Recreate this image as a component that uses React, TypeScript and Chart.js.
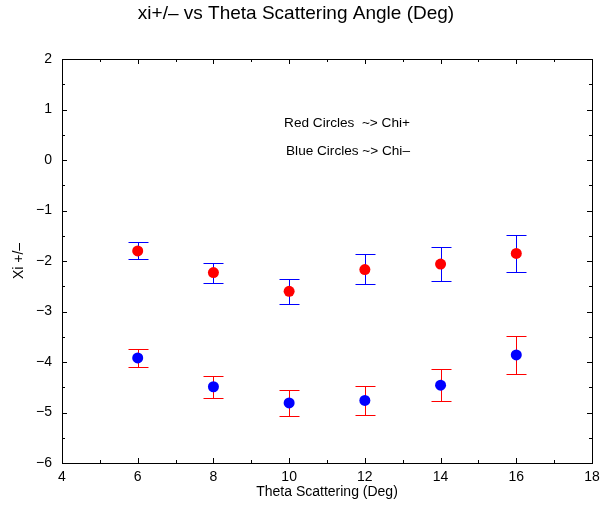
import React, { useEffect, useRef } from "react";
import { Chart, registerables } from "chart.js";

Chart.register(...registerables);

const theta = [6, 8, 10, 12, 14, 16];
const xiPlus = [-1.8, -2.23, -2.6, -2.17, -2.06, -1.85];
const xiPlusHigh = [-1.62, -2.03, -2.35, -1.87, -1.73, -1.48];
const xiPlusLow = [-1.97, -2.44, -2.86, -2.46, -2.39, -2.22];
const xiMinus = [-3.92, -4.49, -4.81, -4.76, -4.46, -3.86];
const xiMinusHigh = [-3.74, -4.28, -4.56, -4.48, -4.14, -3.49];
const xiMinusLow = [-4.1, -4.71, -5.06, -5.04, -4.78, -4.23];
const notes = ["Red Circles  ~> Chi+", "Blue Circles ~> Chi\u2013"];

const FONT = "'Liberation Sans', Arial, Helvetica, sans-serif";

const errorBarPlugin = {
  id: "errorBars",
  beforeDatasetsDraw(chart: any) {
    const ctx = chart.ctx;
    const xs = chart.scales.x;
    const ys = chart.scales.y;
    const groups = [
      { hi: xiPlusHigh, lo: xiPlusLow, color: "#0000ff" },
      { hi: xiMinusHigh, lo: xiMinusLow, color: "#ff0000" },
    ];
    ctx.save();
    ctx.lineWidth = 1;
    groups.forEach((g) => {
      theta.forEach((t, i) => {
        ctx.strokeStyle = g.color;
        const px = Math.round(xs.getPixelForValue(t)) + 0.5;
        const yh = Math.round(ys.getPixelForValue(g.hi[i])) + 0.5;
        const yl = Math.round(ys.getPixelForValue(g.lo[i])) + 0.5;
        ctx.beginPath();
        ctx.moveTo(px, yh);
        ctx.lineTo(px, yl);
        ctx.moveTo(px - 10, yh);
        ctx.lineTo(px + 10, yh);
        ctx.moveTo(px - 10, yl);
        ctx.lineTo(px + 10, yl);
        ctx.stroke();
      });
    });
    ctx.restore();
  },
  afterDraw(chart: any) {
    const ctx = chart.ctx;
    const xs = chart.scales.x;
    const ys = chart.scales.y;
    const a = chart.chartArea;
    ctx.save();
    ctx.strokeStyle = "#000";
    ctx.lineWidth = 1;
    ctx.beginPath();
    for (let v = 4; v <= 18; v += 1) {
      const len = v % 2 === 0 ? 5 : 3;
      const px = Math.round(xs.getPixelForValue(v)) + 0.5;
      ctx.moveTo(px, a.bottom);
      ctx.lineTo(px, a.bottom - len);
      ctx.moveTo(px, a.top);
      ctx.lineTo(px, a.top + len);
    }
    for (let v = -6; v <= 2.001; v += 0.5) {
      const len = Math.abs(v - Math.round(v)) < 0.01 ? 5 : 3;
      const py = Math.round(ys.getPixelForValue(v)) + 0.5;
      ctx.moveTo(a.left, py);
      ctx.lineTo(a.left + len, py);
      ctx.moveTo(a.right, py);
      ctx.lineTo(a.right - len, py);
    }
    ctx.stroke();
    ctx.strokeRect(Math.round(a.left) + 0.5, Math.round(a.top) + 0.5, Math.round(a.right - a.left), Math.round(a.bottom - a.top));
    ctx.fillStyle = "#000";
    ctx.font = "13.6px " + FONT;
    ctx.textAlign = "center";
    ctx.textBaseline = "middle";
    ctx.fillText(notes[0], 347, 123);
    ctx.fillText(notes[1], 348, 151);
    ctx.restore();
  },
};

export default function App() {
  const ref = useRef<HTMLCanvasElement>(null);
  useEffect(() => {
    if (!ref.current) return;
    const chart = new Chart(ref.current, {
      type: "scatter",
      data: {
        datasets: [
          {
            label: "Chi+",
            data: theta.map((t, i) => ({ x: t, y: xiPlus[i] })),
            backgroundColor: "#ff0000",
            borderColor: "#ff0000",
            pointRadius: 5.5,
            borderWidth: 0,
          },
          {
            label: "Chi-",
            data: theta.map((t, i) => ({ x: t, y: xiMinus[i] })),
            backgroundColor: "#0000ff",
            borderColor: "#0000ff",
            pointRadius: 5.5,
            borderWidth: 0,
          },
        ],
      },
      options: {
        animation: false,
        responsive: false,
        devicePixelRatio: 1,
        layout: { padding: { top: 0, right: 9, bottom: 0, left: 0 } },
        plugins: {
          legend: { display: false },
          tooltip: { enabled: false },
          title: {
            display: true,
            text: "xi+/\u2013 vs Theta Scattering Angle (Deg)",
            color: "#000",
            font: { family: FONT, size: 19, weight: "normal" },
            padding: { top: 2, bottom: 34.2 },
          },
        },
        scales: {
          x: {
            type: "linear",
            min: 4,
            max: 18,
            grid: { display: false, drawTicks: false },
            border: { display: true, color: "#000" },
            ticks: {
              stepSize: 2,
              color: "#000",
              padding: 6,
              font: { family: FONT, size: 14 },
              maxRotation: 0,
            },
            title: {
              display: true,
              text: "Theta Scattering (Deg)",
              color: "#000",
              font: { family: FONT, size: 14 },
              padding: { top: 0, bottom: 10 },
            },
            afterFit: (s: any) => {
              s.height = 48;
              s.paddingLeft = 0;
              s.paddingRight = 0;
            },
          },
          y: {
            type: "linear",
            min: -6,
            max: 2,
            grid: { display: false, drawTicks: false },
            border: { display: true, color: "#000" },
            ticks: {
              stepSize: 1,
              color: "#000",
              padding: 10,
              font: { family: FONT, size: 14 },
              callback: (v: any) => (Number(v) < 0 ? "\u2212" + Math.abs(Number(v)) : String(v)),
            },
            title: {
              display: true,
              text: "Xi +/\u2013",
              color: "#000",
              font: { family: FONT, size: 14 },
              padding: { top: 11, bottom: 0 },
            },
            afterFit: (s: any) => {
              s.width = 62;
              s.paddingTop = 0;
              s.paddingBottom = 0;
            },
          },
        },
      },
      plugins: [errorBarPlugin],
    });
    return () => chart.destroy();
  }, []);
  return (
    <div style={{ position: "fixed", left: 0, top: 0, width: 601, height: 511, background: "#fff" }}>
      <canvas ref={ref} width={601} height={511} style={{ display: "block" }} />
    </div>
  );
}
